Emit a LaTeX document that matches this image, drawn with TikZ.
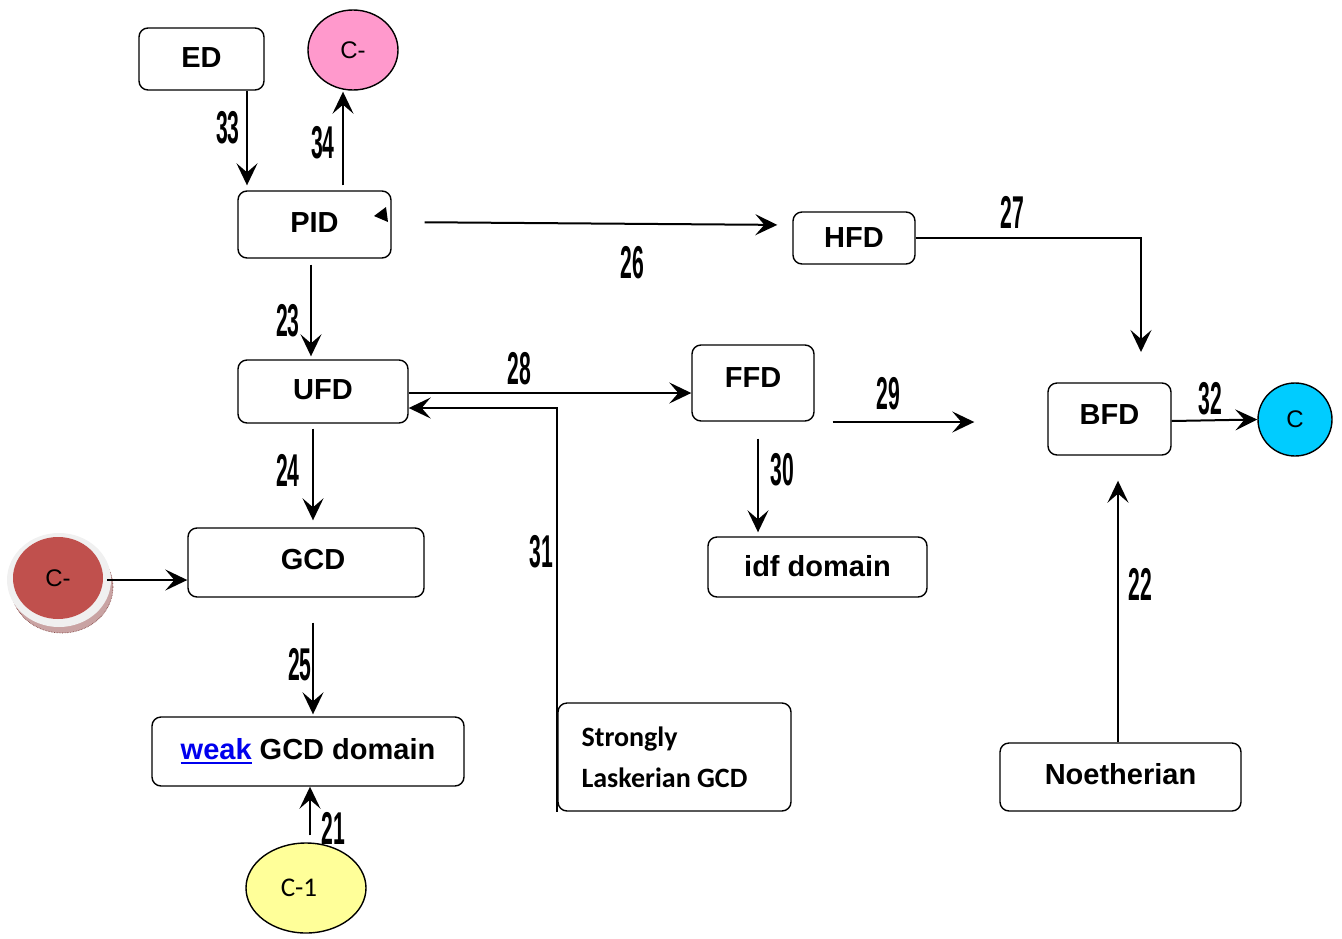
\documentclass[tikz,border=0pt]{standalone}
\usepackage{fontspec}
\setmainfont{Liberation Sans}
\newfontfamily\carl{Carlito}
\usetikzlibrary{arrows.meta,calc}
\definecolor{pinkc}{HTML}{FF99CC}
\definecolor{cyanc}{HTML}{00CCFF}
\definecolor{yellowc}{HTML}{FFFF99}
\definecolor{brownc}{HTML}{C0504D}
\definecolor{ringc}{HTML}{F0F0F0}
\definecolor{shadc}{HTML}{C9A3A3}
\definecolor{linkblue}{HTML}{0000EE}
\newcommand\myul[1]{\setbox0\hbox{#1}\rlap{\raisebox{-4pt}{\rule{\wd0}{2pt}}}\box0}
\newcommand\numlab[1]{\scalebox{0.46}[1]{\fontsize{46}{46}\selectfont\bfseries #1}}
\tikzset{
  box/.style={draw, line width=1.4pt, rounded corners=9pt, fill=white, inner sep=0pt,
    font=\fontsize{29}{32}\selectfont\bfseries},
  circ/.style={draw, line width=1.4pt, ellipse, inner sep=0pt, font=\fontsize{24}{26}\selectfont},
  arr/.style={line width=2pt, -{Stealth[length=22pt,width=21pt,inset=9pt]}},
  num/.style={inner sep=0pt}
}
\usetikzlibrary{shapes.geometric}
\begin{document}
\begin{tikzpicture}[x=1pt,y=-1pt]
\useasboundingbox (0,0) rectangle (1342,938);
% boxes
\node[box, minimum width=125pt, minimum height=62pt] (ED) at (201.5,59) {\raisebox{3pt}{ED}};
\node[circ, fill=pinkc, minimum width=90pt, minimum height=80pt] (Cp) at (353,50) {C-};
\node[box, minimum width=153pt, minimum height=67pt] (PID) at (314.5,224.5) {\raisebox{4pt}{PID}};
\node[box, minimum width=122pt, minimum height=52pt] (HFD) at (854,238) {HFD};
\node[box, minimum width=170pt, minimum height=63pt] (UFD) at (323,391.5) {\raisebox{3pt}{UFD}};
\node[box, minimum width=122pt, minimum height=76pt] (FFD) at (753,383) {\raisebox{10pt}{FFD}};
\node[box, minimum width=123pt, minimum height=72pt] (BFD) at (1109.5,419) {\raisebox{9pt}{BFD}};
\node[circ, fill=cyanc, minimum width=74pt, minimum height=73pt] (Cc) at (1295,419.5) {C};
\node[box, minimum width=219pt, minimum height=60pt] (idf) at (817.5,567) {\raisebox{3pt}{idf domain}};
\node[box, minimum width=236pt, minimum height=69pt] (GCD) at (306,562.5) {\hspace{14pt}\raisebox{7pt}{GCD}};
\node[box, minimum width=312pt, minimum height=69pt] (weak) at (308,751.5) {\raisebox{5pt}{\textcolor{linkblue}{\myul{weak}} GCD domain}};
\node[box, minimum width=233pt, minimum height=108pt, align=left, font=\carl\fontsize{28}{41}\selectfont\bfseries] (SL) at (674.5,757) {\hspace{-20pt}Strongly\\\hspace{-20pt}Laskerian GCD};
\node[box, minimum width=241pt, minimum height=68pt] (Noeth) at (1120.5,777) {\raisebox{6pt}{Noetherian}};
\node[circ, fill=yellowc, minimum width=120pt, minimum height=90pt, font=\carl\fontsize{27}{28}\selectfont] (C1) at (306,888) {\hspace{-14pt}C-1};
% brown circle with ring and shadow
\fill[shadc] (62,587) ellipse [x radius=51pt, y radius=46pt];
\draw[brownc!60!black, line width=0.6pt, densely dotted] (62,587) ellipse [x radius=51pt, y radius=46pt];
\fill[ringc] (59,580) ellipse [x radius=52pt, y radius=47pt];
\node[ellipse, fill=brownc, minimum width=90pt, minimum height=82pt, inner sep=0pt, font=\fontsize{24}{26}\selectfont] (Cb) at (58,578) {C-};
% x reference coordinates
\coordinate (x33) at (247,0);
\coordinate (x34) at (343,0);
\coordinate (x23) at (311,0);
\coordinate (x24) at (313,0);
\coordinate (x21) at (310,0);
\coordinate (x30) at (758,0);
\coordinate (x22) at (1118,0);
\coordinate (y26a) at (0,222);
\coordinate (y26b) at (0,225);
\coordinate (y28) at (0,393);
\coordinate (y31) at (0,408);
\coordinate (y29) at (0,422);
\coordinate (y32) at (0,421);
\coordinate (yb) at (0,580);
\coordinate (c27) at (1141,352);
% connectors
\draw[arr, shorten >=5pt] (ED.south -| x33) -- (PID.north -| x33);
\draw[arr, shorten <=5pt, shorten >=1pt] (PID.north -| x34) -- (Cp.south -| x34);
\fill (374,216) -- (386,207) -- (388,222) -- cycle;
\draw[arr, shorten <=33pt, shorten >=15pt] (PID.east |- y26a) -- (HFD.west |- y26b);
\draw[arr] (HFD.east) -| (c27);
\draw[arr, shorten <=6pt, shorten >=3pt] (PID.south -| x23) -- (UFD.north -| x23);
\draw[arr] (UFD.east |- y28) -- (FFD.west |- y28);
\draw[arr] (SL.south west) -- (SL.west |- y31) -- (UFD.east |- y31);
\draw[arr, shorten <=18pt, shorten >=73pt] (FFD.east |- y29) -- (BFD.west |- y29);
\draw[arr, shorten <=17pt, shorten >=4pt] (FFD.south -| x30) -- (idf.north -| x30);
\draw[arr] (BFD.east |- y32) -- (Cc.west);
\draw[arr, shorten >=25pt] (Noeth.north -| x22) -- (BFD.south -| x22);
\draw[arr, shorten <=5pt, shorten >=7pt] (UFD.south -| x24) -- (GCD.north -| x24);
\draw[arr, shorten <=25pt, shorten >=2pt] (GCD.south -| x24) -- (weak.north -| x24);
\draw[arr, shorten <=7pt] (C1.north -| x21) -- (weak.south -| x21);
\draw[arr, shorten <=4pt] (Cb.east |- yb) -- (GCD.west |- yb);
% labels
\node[num] (l33) at (228,128) {\numlab{33}};
\node[num] (l34) at (323,143) {\numlab{34}};
\node[num] (l26) at (632,263) {\numlab{26}};
\node[num] (l27) at (1012,212) {\numlab{27}};
\node[num] (l23) at (288,321) {\numlab{23}};
\node[num] (l28) at (519,369) {\numlab{28}};
\node[num] (l29) at (888,394) {\numlab{29}};
\node[num] (l24) at (288,470) {\numlab{24}};
\node[num] (l30) at (782,470) {\numlab{30}};
\node[num] (l31) at (541,552) {\numlab{31}};
\node[num] (l32) at (1210,399) {\numlab{32}};
\node[num] (l22) at (1140,584) {\numlab{22}};
\node[num] (l25) at (300,665) {\numlab{25}};
\node[num] (l21) at (333,828) {\numlab{21}};
\end{tikzpicture}
\end{document}
